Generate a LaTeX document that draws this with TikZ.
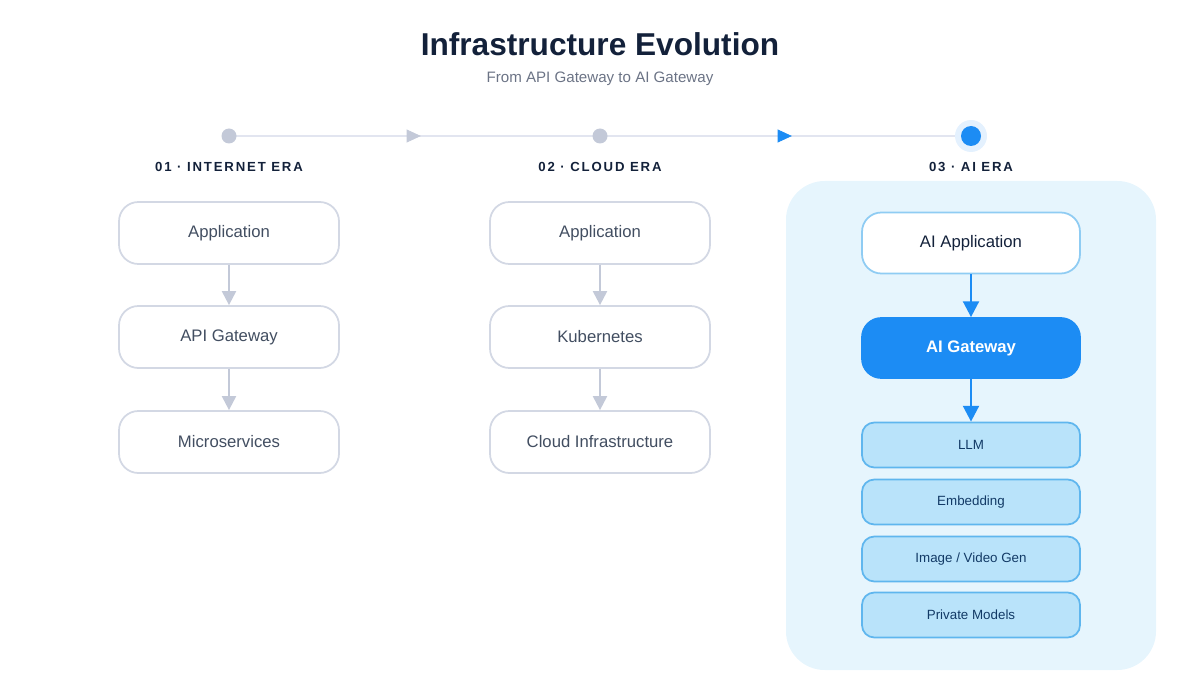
\documentclass[tikz,border=0pt]{standalone}
\usepackage{fontspec}
\setmainfont{Liberation Sans}
\usepackage{tikz}
\usetikzlibrary{positioning,arrows.meta}
\definecolor{ink}{HTML}{13213A}
\definecolor{grayline}{HTML}{C3C9D8}
\definecolor{boxline}{HTML}{D3D8E4}
\definecolor{track}{HTML}{E2E5F0}
\definecolor{blueA}{HTML}{1C8CF4}
\definecolor{panel}{HTML}{E6F5FD}
\definecolor{modelfill}{HTML}{B9E3FA}
\definecolor{modelline}{HTML}{5FB6EE}
\definecolor{modeltext}{HTML}{123A66}
\definecolor{subgray}{HTML}{6B7385}
\tikzset{
  oldbox/.style={draw=boxline, line width=1pt, rounded corners=11pt, fill=white,
    minimum width=220*0.02cm, minimum height=62*0.02cm, text=ink!80, font=\fontsize{9.5}{11}\selectfont},
  aibox/.style={oldbox, draw=modelline!70, text=ink},
  gwbox/.style={oldbox, draw=blueA, fill=blueA, text=white, font=\fontsize{9.5}{11}\selectfont\bfseries},
  model/.style={draw=modelline, line width=1pt, rounded corners=7pt, fill=modelfill,
    minimum width=218*0.02cm, minimum height=45*0.02cm, text=modeltext, font=\fontsize{7.6}{9}\selectfont},
  era/.style={text=ink, font=\fontsize{7.5}{9}\selectfont\bfseries\addfontfeature{LetterSpace=14}},
  grayarr/.style={draw=grayline, line width=1.2pt, -{Triangle[length=8pt,width=8pt]}},
  bluearr/.style={draw=blueA, line width=1.5pt, -{Triangle[length=9pt,width=9pt]}},
}
\begin{document}
\begin{tikzpicture}[x=0.02cm, y=-0.02cm]
  \useasboundingbox (0,0) rectangle (1200,699);
  % title
  \node[text=ink, font=\fontsize{18}{20}\selectfont\bfseries] (title) at (600,44) {Infrastructure Evolution};
  \node[text=subgray, font=\fontsize{8.6}{10}\selectfont] (subtitle) at (600,79) {From API Gateway to AI Gateway};

  % timeline
  \coordinate (t1) at (229,136);
  \coordinate (t2) at (600,136);
  \coordinate (t3) at (971,136);
  \coordinate (m1) at (420,136);
  \coordinate (m2) at (791,136);
  \draw[track, line width=1.5pt] (t1) -- (t3);
  \draw[draw=grayline, fill=grayline] (m1) -- ++(-13,-6) -- ++(0,12) -- cycle;
  \draw[draw=blueA, fill=blueA] (m2) -- ++(-13,-6) -- ++(0,12) -- cycle;
  \fill[grayline] (t1) circle (7.5);
  \fill[grayline] (t2) circle (7.5);
  \fill[blueA!12] (t3) circle (16);
  \fill[blueA] (t3) circle (10);

  \node[era] (era1) at (229,167) {01 · INTERNET ERA};
  \node[era] (era2) at (600,167) {02 · CLOUD ERA};
  \node[era] (era3) at (971,167) {03 · AI ERA};

  % panel
  \fill[panel, rounded corners=22pt] (786,181) rectangle (1156,670);

  % internet era
  \node[oldbox] (app1) at (229,233) {Application};
  \node[oldbox] (api) at (229,337) {API Gateway};
  \node[oldbox] (micro) at (229,442) {Microservices};
  \draw[grayarr] (app1) -- (api);
  \draw[grayarr] (api) -- (micro);

  % cloud era
  \node[oldbox] (app2) at (600,233) {Application};
  \node[oldbox] (kube) at (600,337) {Kubernetes};
  \node[oldbox] (cloud) at (600,442) {Cloud Infrastructure};
  \draw[grayarr] (app2) -- (kube);
  \draw[grayarr] (kube) -- (cloud);

  % ai era
  \node[aibox, minimum width=218*0.02cm, minimum height=61*0.02cm] (aiapp) at (971,243) {AI Application};
  \node[gwbox, minimum width=218*0.02cm, minimum height=60*0.02cm] (aigw) at (971,348) {AI Gateway};
  \node[model] (llm) at (971,445) {LLM};
  \node[model] (emb) at (971,502) {Embedding};
  \node[model] (img) at (971,559) {Image / Video Gen};
  \node[model] (priv) at (971,615) {Private Models};
  \draw[bluearr] (aiapp) -- (aigw);
  \draw[bluearr] (aigw) -- (llm);
\end{tikzpicture}
\end{document}
